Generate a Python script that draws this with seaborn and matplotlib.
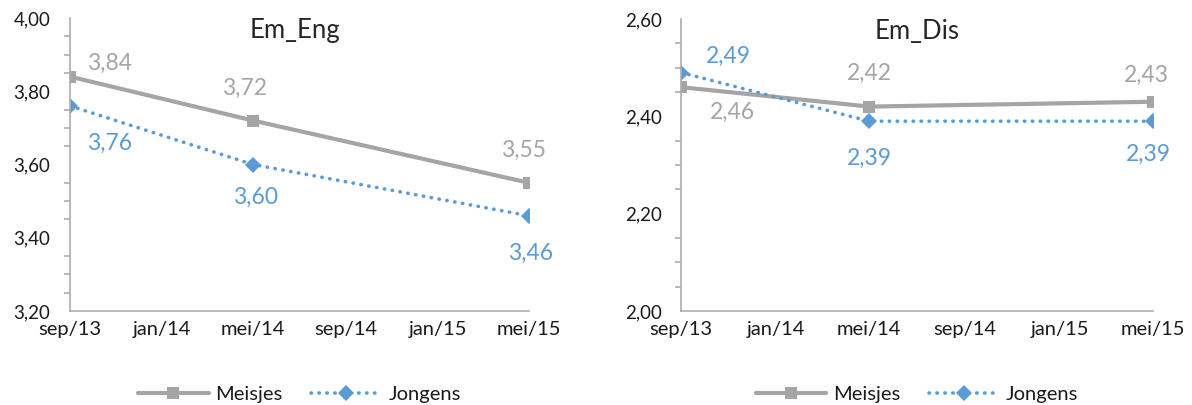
import matplotlib
matplotlib.use("Agg")
import matplotlib.pyplot as plt
from matplotlib.ticker import MultipleLocator, FuncFormatter
from matplotlib.lines import Line2D
import pandas as pd
import seaborn as sns

# Measurement moments and axis ticks
dates = ["2013-09-01", "2014-05-01", "2015-05-01"]
tick_dates = ["2013-09-01", "2014-01-01", "2014-05-01", "2014-09-01", "2015-01-01", "2015-05-01"]
tick_labels = ["sep/13", "jan/14", "mei/14", "sep/14", "jan/15", "mei/15"]

series_names = ["Meisjes", "Jongens"]

# Em_Eng panel
eng_meisjes = [3.84, 3.72, 3.55]
eng_jongens = [3.76, 3.60, 3.46]

# Em_Dis panel
dis_meisjes = [2.46, 2.42, 2.43]
dis_jongens = [2.49, 2.39, 2.39]

titles = ["Em_Eng", "Em_Dis"]

sns.set_theme(style="white")
plt.rcParams["font.family"] = ["Lato", "DejaVu Sans"]

GRAY = "#A5A5A5"
BLUE = "#5B9BD5"
AXIS = "#ADADAD"
DOT = (0, (0.1, 2.1))

fig = plt.figure(figsize=(11.92, 4.05), dpi=100)
ax_l = fig.add_axes([70 / 1192, 1 - 311 / 405, (529 - 70) / 1192, (311 - 18) / 405])
ax_r = fig.add_axes([681 / 1192, 1 - 311 / 405, (1153 - 681) / 1192, (311 - 19) / 405])

panels = [
    (ax_l, eng_meisjes, eng_jongens, (3.2, 4.0), 0.49,
     [(40, 13), (-8, 32), (-5, 32)], [(40, -37), (3, -33), (2, -38)]),
    (ax_r, dis_meisjes, dis_jongens, (2.0, 2.6), 0.5,
     [(51, -25), (0, 33), (-7, 26)], [(47, 16), (0, -37), (-5, -33)]),
]

x = pd.to_datetime(dates)
px = 72 / 100  # pixels -> points

comma = FuncFormatter(lambda v, p: f"{v:.2f}".replace(".", ","))

for (ax, meis, jong, ylim, title_x, off_m, off_j), title in zip(panels, titles):
    df = pd.DataFrame({"datum": x, "Meisjes": meis, "Jongens": jong})
    sns.lineplot(data=df, x="datum", y="Meisjes", ax=ax, color=GRAY, linewidth=3,
                 marker="s", markersize=9, markeredgewidth=0, legend=False)
    sns.lineplot(data=df, x="datum", y="Jongens", ax=ax, color=BLUE, linewidth=2.6,
                 linestyle=DOT, dash_capstyle="round", marker="D", markersize=8.5,
                 markeredgewidth=0, legend=False)

    for xi, v, (dx, dy) in zip(x, meis, off_m):
        ax.annotate(f"{v:.2f}".replace(".", ","), (xi, v), xytext=(dx * px, dy * px),
                    textcoords="offset points", ha="center", va="center",
                    color=GRAY, fontsize=16.5, annotation_clip=False)
    for xi, v, (dx, dy) in zip(x, jong, off_j):
        ax.annotate(f"{v:.2f}".replace(".", ","), (xi, v), xytext=(dx * px, dy * px),
                    textcoords="offset points", ha="center", va="center",
                    color=BLUE, fontsize=16.5, annotation_clip=False)

    ax.set_xlim(pd.Timestamp(tick_dates[0]), pd.Timestamp(tick_dates[-1]))
    ax.set_xticks(pd.to_datetime(tick_dates))
    ax.set_xticklabels(tick_labels)
    ax.set_ylim(*ylim)
    ax.yaxis.set_major_locator(MultipleLocator(0.2))
    ax.yaxis.set_minor_locator(MultipleLocator(0.05))
    ax.yaxis.set_major_formatter(comma)
    ax.set_xlabel("")
    ax.set_ylabel("")

    for side in ["top", "right"]:
        ax.spines[side].set_visible(False)
    for side in ["left", "bottom"]:
        ax.spines[side].set_color(AXIS)
        ax.spines[side].set_linewidth(1.2)
    ax.tick_params(axis="both", which="both", direction="out", color=AXIS, width=1.2,
                   labelcolor="#1a1a1a")
    ax.tick_params(axis="y", which="major", length=5, pad=9, labelsize=13.5)
    ax.tick_params(axis="y", which="minor", length=4, left=True)
    ax.tick_params(axis="x", which="major", length=4, pad=3, labelsize=14.5)

    ax.text(title_x, 1.0, title, transform=ax.transAxes, ha="center", va="top",
            fontsize=18.5, color="#262626")

    handles = [
        Line2D([], [], color=GRAY, linewidth=3, marker="s", markersize=9, markeredgewidth=0),
        Line2D([], [], color=BLUE, linewidth=2.6, linestyle=DOT, dash_capstyle="round",
               marker="D", markersize=8.5, markeredgewidth=0),
    ]
    ax.legend(handles, series_names, loc="center", bbox_to_anchor=(0.5, -0.285),
              ncol=2, frameon=False, fontsize=14.5, handlelength=3.5, columnspacing=1.4,
              handletextpad=0.35, labelcolor="#1a1a1a")

fig.savefig("out.png", dpi=100)
